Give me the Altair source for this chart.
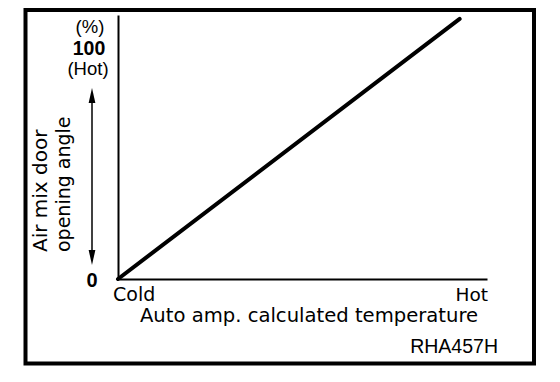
import altair as alt
import pandas as pd

# ---- data ----
temp_pct = [0, 100]          # auto amp. calculated temperature (Cold -> Hot)
door_pct = [0, 100]          # air mix door opening angle (%)
y_top_labels = ["(%)", "100", "(Hot)"]
y_zero_label = ["0"]
y_title_lines = ["Air mix door", "opening angle"]
x_end_labels = ["Cold", "Hot"]
x_title = ["Auto amp. calculated temperature"]
fig_code = ["RHA457H"]

line_df = pd.DataFrame({"temp": temp_pct, "door": door_pct})

W, H = 369, 264
X_DOMAIN = [0, 108]
Y_DOMAIN = [0, 101.5]

axis_style = dict(domain=True, domainColor="black", domainWidth=2, ticks=False,
                  labels=False, grid=False, title=None)

line = alt.Chart(line_df).mark_line(color="black", strokeWidth=4, strokeCap="round").encode(
    x=alt.X("temp:Q", scale=alt.Scale(domain=X_DOMAIN, nice=False, zero=False),
            axis=alt.Axis(**axis_style)),
    y=alt.Y("door:Q", scale=alt.Scale(domain=Y_DOMAIN, nice=False, zero=False),
            axis=alt.Axis(**axis_style)),
)


def txt(label, x, y, size, font="Liberation Sans", weight="normal", align="center",
        baseline="middle", angle=0):
    df = pd.DataFrame({"t": [label]})
    return alt.Chart(df).mark_text(
        font=font, fontSize=size, fontWeight=weight, align=align, baseline=baseline,
        angle=angle, color="black",
    ).encode(text="t:N", x=alt.value(x), y=alt.value(y))


texts = [
    txt(y_top_labels[0], -28, 12, 18.5),
    txt(y_top_labels[1], -29, 34, 19.5, weight="bold"),
    txt(y_top_labels[2], -30, 54, 18.5),
    txt(y_zero_label[0], -26, 266, 20, weight="bold"),
    txt(x_end_labels[0], -5, 286, 19, font="DejaVu Sans", align="left", baseline="alphabetic"),
    txt(x_end_labels[1], 370, 286, 18.5, font="DejaVu Sans", align="right", baseline="alphabetic"),
    txt(x_title[0], 191, 307, 19.6, font="DejaVu Sans", baseline="alphabetic"),
    txt(fig_code[0], 380, 338, 19.5, align="right", baseline="alphabetic"),
    txt(y_title_lines[0], -71, 237, 20, font="DejaVu Sans", align="left",
        baseline="alphabetic", angle=270),
    txt(y_title_lines[1], -48, 237, 19, font="DejaVu Sans", align="left",
        baseline="alphabetic", angle=270),
]

one = pd.DataFrame({"k": [0]})

frame = alt.Chart(one).mark_rect(fillOpacity=0, stroke="black", strokeWidth=4).encode(
    x=alt.value(-92.5), x2=alt.value(416), y=alt.value(-5), y2=alt.value(348.5)
)

arrow_shaft = alt.Chart(one).mark_rule(color="black", strokeWidth=1.5).encode(
    x=alt.value(-26), y=alt.value(80), y2=alt.value(243)
)
head_up = alt.Chart(one).mark_point(
    shape="M0,-1L0.45,1L-0.45,1Z", filled=True, color="black", size=225, opacity=1
).encode(x=alt.value(-26), y=alt.value(80.5))
head_down = alt.Chart(one).mark_point(
    shape="M0,1L0.45,-1L-0.45,-1Z", filled=True, color="black", size=225, opacity=1
).encode(x=alt.value(-26), y=alt.value(242.5))

chart = alt.layer(frame, line, arrow_shaft, head_up, head_down, *texts).properties(
    width=W, height=H,
    padding={"left": 110, "top": 7, "right": 60, "bottom": 95},
    autosize=alt.AutoSizeParams(type="none"),
    background="white",
).configure_view(stroke=None)

chart.save("out.html", embed_options={"renderer": "svg", "actions": False})
